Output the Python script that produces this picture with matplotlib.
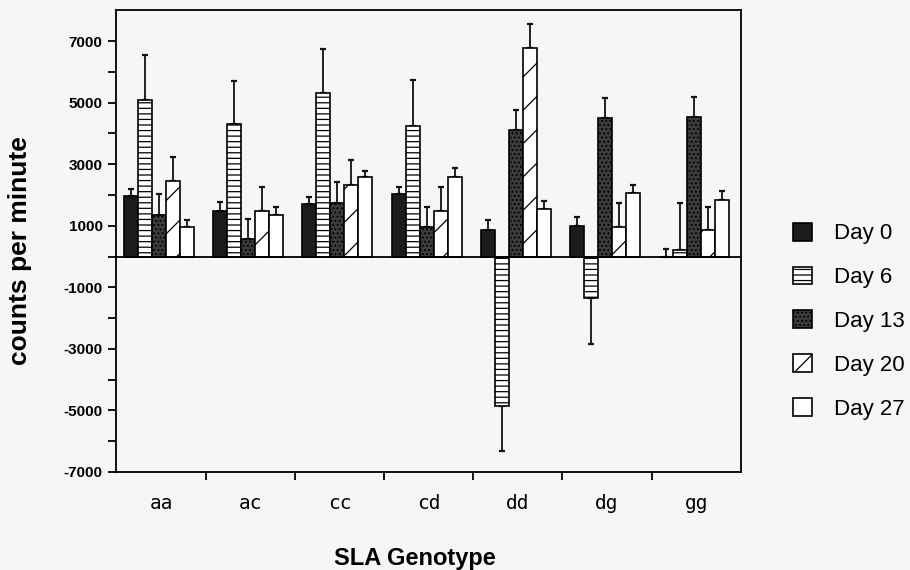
import matplotlib

matplotlib.use("Agg")
import matplotlib.pyplot as plt
import numpy as np
from matplotlib.ticker import FixedLocator

# --------------------------------------------------------------- datos
genotypes = ["aa", "ac", "cc", "cd", "dd", "dg", "gg"]
days = ["Day 0", "Day 6", "Day 13", "Day 20", "Day 27"]

day0_mean = [1950, 1490, 1690, 2030, 845, 1005, 0]
day6_mean = [5100, 4300, 5320, 4225, -4855, -1350, 215]
day13_mean = [1360, 560, 1740, 950, 4110, 4495, 4540]
day20_mean = [2465, 1470, 2335, 1470, 6765, 950, 845]
day27_mean = [950, 1350, 2595, 2595, 1545, 2050, 1850]

day0_err = [245, 270, 255, 220, 325, 270, 240]
day6_err = [1450, 1410, 1415, 1505, 1465, 1505, 1525]
day13_err = [670, 660, 670, 670, 655, 650, 650]
day20_err = [775, 800, 800, 800, 800, 800, 755]
day27_err = [220, 270, 195, 270, 270, 285, 270]

means = [day0_mean, day6_mean, day13_mean, day20_mean, day27_mean]
errs = [day0_err, day6_err, day13_err, day20_err, day27_err]

# ------------------------------------------------------------- estilos
styles = [
    dict(facecolor="#1c1c1c", hatch=None),
    dict(facecolor="white", hatch="---"),
    dict(facecolor="#3c3c3c", hatch="...."),
    dict(facecolor="white", hatch="/"),
    dict(facecolor="white", hatch=None),
]

plt.rcParams["font.family"] = ["Liberation Sans", "DejaVu Sans"]
plt.rcParams["hatch.linewidth"] = 0.9
plt.rcParams["axes.unicode_minus"] = False

bg = "#f6f6f6"
fig = plt.figure(figsize=(9.1, 5.7), dpi=100, facecolor=bg)
ax = fig.add_axes([0.128, 0.172, 0.686, 0.810])
ax.set_facecolor(bg)

x0 = np.arange(len(genotypes))
width = 0.157
offset = 0.085

for j, (m, e, st) in enumerate(zip(means, errs, styles)):
    m = np.array(m, dtype=float)
    e = np.array(e, dtype=float)
    left = x0 + offset + j * width
    ax.bar(left, m, width=width, align="edge", facecolor=st["facecolor"],
           hatch=st["hatch"], edgecolor="black", linewidth=1.2,
           label=days[j], zorder=2)
    # barras de error de un solo lado (hacia afuera del cero)
    lower = np.where(m < 0, e, 0)
    upper = np.where(m >= 0, e, 0)
    ax.errorbar(left + width / 2, m, yerr=[lower, upper], fmt="none",
                ecolor="#111111", elinewidth=1.3, capsize=2.5, capthick=1.6,
                zorder=1)

ax.axhline(0, color="black", lw=1.3, zorder=3)

ax.set_xlim(0, len(genotypes))
ax.set_ylim(-7000, 8000)

# eje y: marcas cada 1000, etiquetas en miles impares
ax.set_yticks(np.arange(-7000, 8000, 2000))
ax.yaxis.set_minor_locator(FixedLocator(np.arange(-6000, 8000, 2000)))
ax.tick_params(axis="y", which="both", direction="out", length=6, width=1.3)
ax.tick_params(axis="y", which="major", labelsize=11, pad=4)
for lbl in ax.get_yticklabels():
    lbl.set_fontweight("bold")

# eje x: marcas en los limites de grupo, etiquetas centradas
ax.set_xticks(np.arange(1, len(genotypes)))
ax.set_xticklabels([])
ax.set_xticks(x0 + 0.5, minor=True)
ax.set_xticklabels(genotypes, minor=True, family="DejaVu Sans Mono",
                   fontsize=14)
ax.tick_params(axis="x", which="major", direction="out", length=6, width=1.3)
ax.tick_params(axis="x", which="minor", length=0, pad=16)

for sp in ax.spines.values():
    sp.set_linewidth(1.3)

ax.set_ylabel("counts per minute", fontsize=19, fontweight="bold")
ax.yaxis.set_label_coords(-0.135, 0.48)
ax.set_xlabel("SLA Genotype", fontsize=17, fontweight="bold")
ax.xaxis.set_label_coords(0.478, -0.163)

fig.legend(loc="upper left", bbox_to_anchor=(0.862, 0.6245), frameon=False,
           fontsize=16, handlelength=0.85, handleheight=0.85, labelspacing=1.0,
           handletextpad=1.0, borderaxespad=0)

fig.savefig("out.png", facecolor=bg)
